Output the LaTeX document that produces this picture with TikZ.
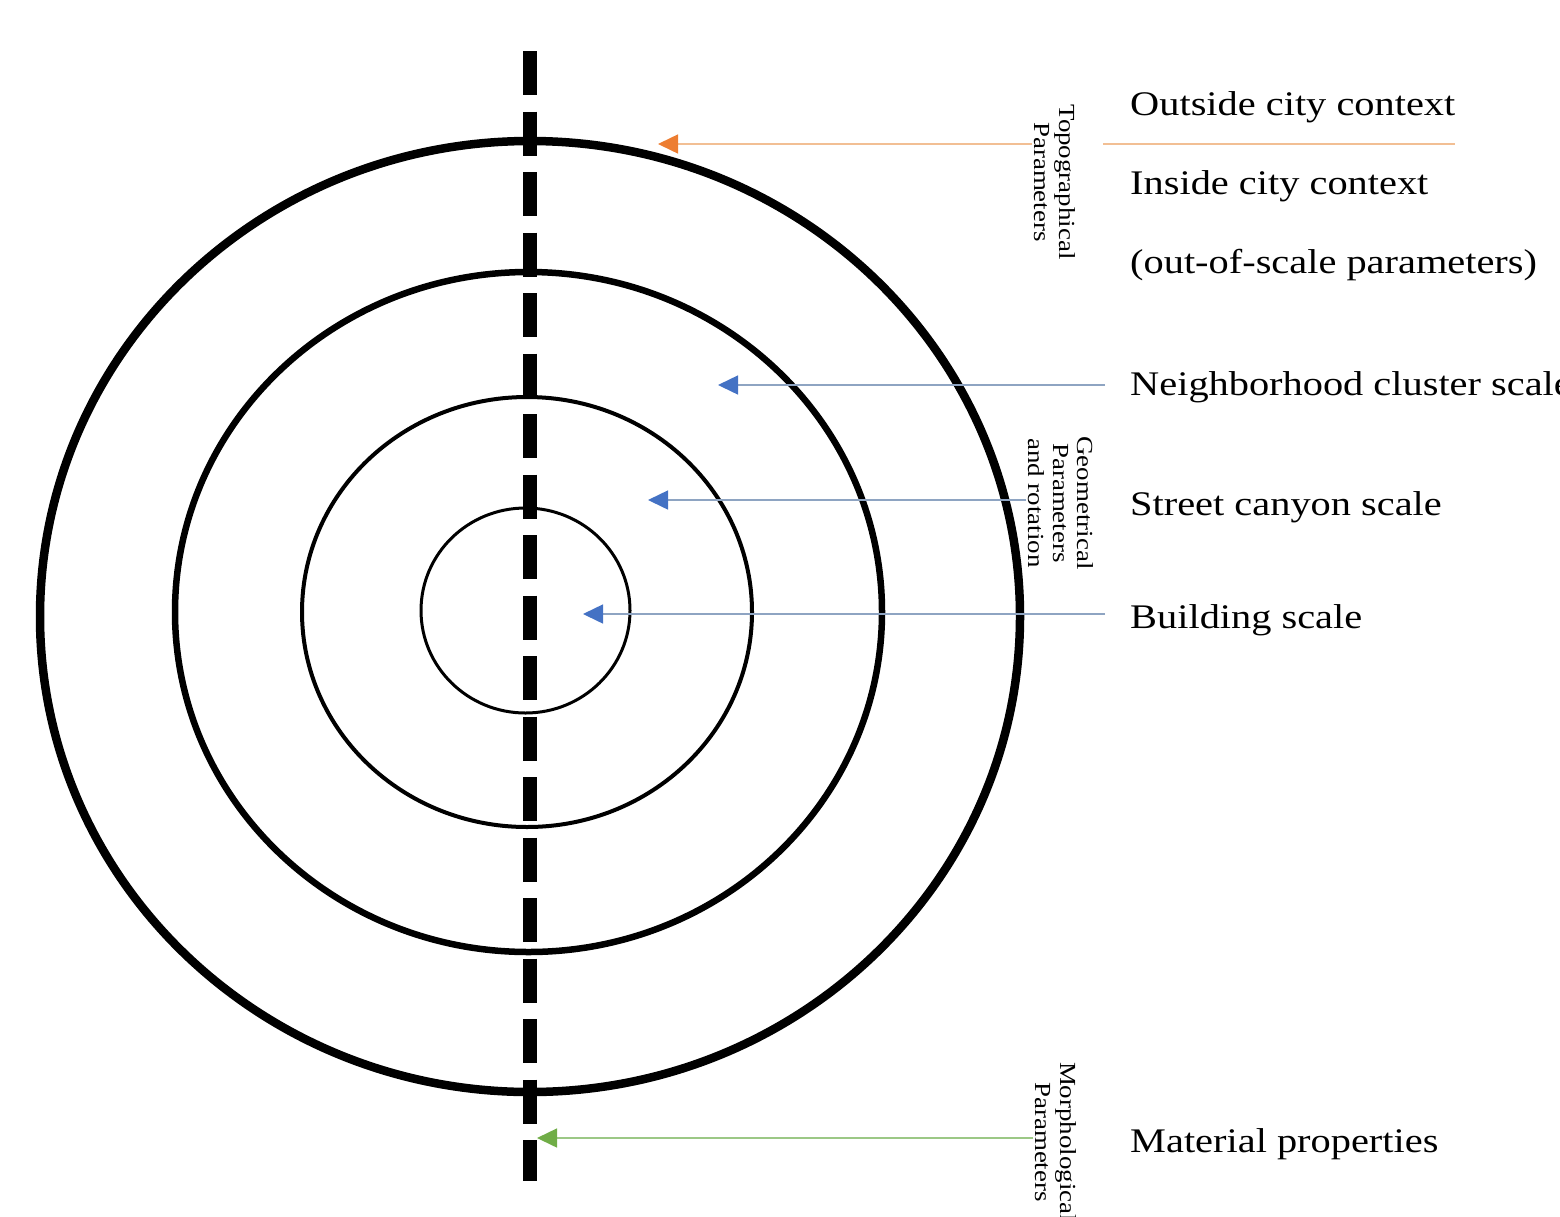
\documentclass[tikz,border=0pt]{standalone}
\usepackage{fontspec}
\setmainfont{Liberation Serif}
\newfontfamily\lblfont{Liberation Serif}[FakeStretch=1.17]
\usetikzlibrary{arrows.meta}
\definecolor{ablue}{HTML}{4472C4}
\definecolor{bline}{HTML}{8EA4C2}
\definecolor{aorange}{HTML}{ED7D31}
\definecolor{oline}{HTML}{F2BF94}
\definecolor{agreen}{HTML}{70AD47}
\definecolor{gline}{HTML}{9CC886}
\begin{document}
\begin{tikzpicture}[x=1pt,y=-1pt,
  axisline/.style={line width=14pt, dash pattern=on 44pt off 16.5pt},
  lbl/.style={anchor=base west, inner sep=0pt, font=\lblfont\fontsize{34.5}{40}\selectfont},
  side/.style={rotate=-90, align=center, fill=white, inner sep=2pt, font=\lblfont\fontsize{23}{24.5}\selectfont},
  bluearr/.style={draw=bline, line width=1.5pt, -{Triangle[length=20pt,width=19pt,color=ablue]}},
  orangearr/.style={draw=oline, line width=1.5pt, -{Triangle[length=20pt,width=19pt,color=aorange]}},
  greenarr/.style={draw=gline, line width=1.5pt, -{Triangle[length=20pt,width=19pt,color=agreen]}},
  sepline/.style={draw=oline, line width=1.5pt}]
\useasboundingbox (0,0) rectangle (1560,1216);

% rings
\draw[line width=8.5pt] (530,616.5) ellipse [x radius=490pt, y radius=475.5pt];
\draw[line width=6.5pt] (528.5,612) ellipse [x radius=353.5pt, y radius=340pt];
\draw[line width=4pt] (527,612) ellipse [x radius=225pt, y radius=215pt];
\draw[line width=3pt] (525.5,610.5) ellipse [x radius=104.5pt, y radius=102.5pt];

% dashed axis
\coordinate (axtop) at (530,51);
\coordinate (axbot) at (530,1181);
\draw[axisline] (axtop) -- (axbot);

% labels
\node[lbl] (outside) at (1130,115) {Outside city context};
\node[lbl] (inside) at (1130,194) {Inside city context};
\node[lbl] (oos) at (1130,273) {(out-of-scale parameters)};
\node[lbl] (nb) at (1130,395) {Neighborhood cluster scale};
\node[lbl] (street) at (1130,515) {Street canyon scale};
\node[lbl] (building) at (1130,628) {Building scale};
\node[lbl] (material) at (1130,1152) {Material properties};

% side (rotated) labels
\node[side] (topo) at (1055,182) {Topographical\\Parameters};
\node[side] (geo) at (1061,503) {Geometrical\\Parameters\\and rotation};
\node[side] (morph) at (1056,1142) {Morphological\\Parameters};

% arrow tips (free ends)
\coordinate (oT) at (658,144);
\coordinate (nT) at (718,385);
\coordinate (sT) at (648,500);
\coordinate (bT) at (583,614);
\coordinate (gT) at (537,1138);
\coordinate (nS) at (1105,385);
\coordinate (bS) at (1105,614);
\coordinate (sepA) at (1103,144);
\coordinate (sepB) at (1455,144);

% connectors
\draw[orangearr] (oT -| topo.south) -- (oT);
\draw[sepline] (sepA) -- (sepB);
\draw[bluearr] (nS) -- (nT);
\draw[bluearr] (sT -| geo.south) -- (sT);
\draw[bluearr] (bS) -- (bT);
\draw[greenarr] (gT -| morph.south) -- (gT);
\end{tikzpicture}
\end{document}
